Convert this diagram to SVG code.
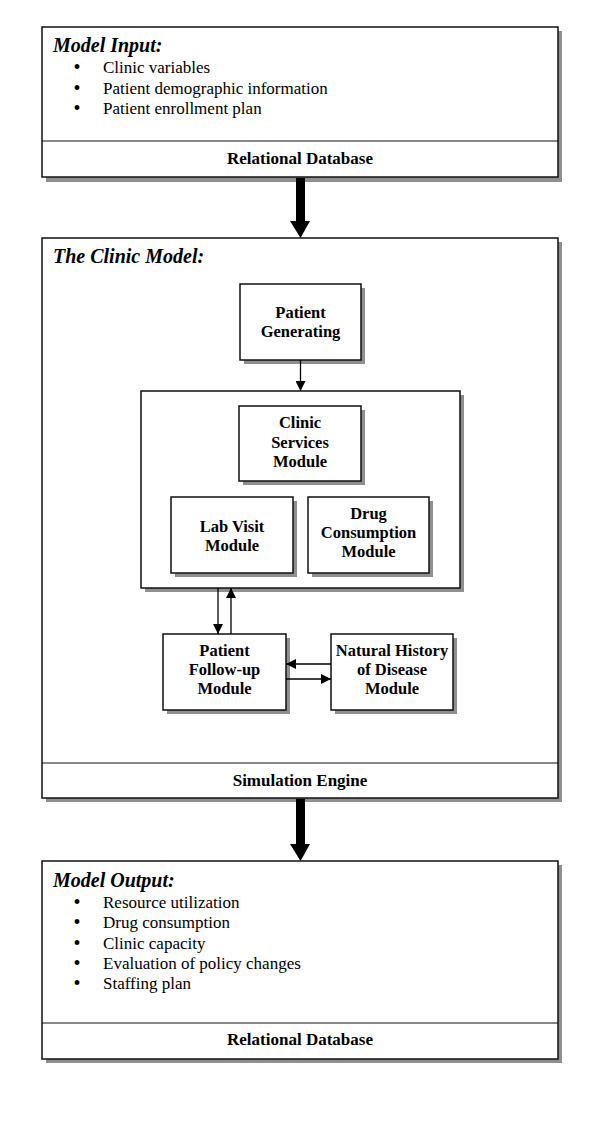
<svg xmlns="http://www.w3.org/2000/svg" width="600" height="1128" viewBox="0 0 600 1128">
<defs>
<style>
.shadow{fill:#8f8f8f;}
.box{fill:#fff;stroke:#111;stroke-width:1.5;}
.div{stroke:#111;stroke-width:1.2;fill:none;}
.title{font-family:"Liberation Serif","Times New Roman",serif;font-size:20px;font-weight:bold;font-style:italic;fill:#000;}
.item{font-family:"Liberation Serif","Times New Roman",serif;font-size:17px;fill:#000;}
.bul{font-family:"Liberation Serif","Times New Roman",serif;font-size:20px;fill:#000;text-anchor:middle;}
.label{font-family:"Liberation Serif","Times New Roman",serif;font-size:16.5px;font-weight:bold;fill:#000;text-anchor:middle;}
.band{font-family:"Liberation Serif","Times New Roman",serif;font-size:17px;font-weight:bold;fill:#000;text-anchor:middle;}
.conn{stroke:#000;stroke-width:1.3;fill:none;marker-end:url(#ah);}
</style>
<marker id="ah" viewBox="0 0 10 10" refX="10" refY="5" markerWidth="10" markerHeight="10" markerUnits="userSpaceOnUse" orient="auto">
<path d="M0,0 L10,5 L0,10 Z" fill="#000"/>
</marker>
</defs>
<rect width="600" height="1128" fill="#fff"/>

<g id="model-input">
<rect class="shadow" x="46" y="31" width="516" height="151"/>
<rect class="box" x="42" y="27" width="516" height="150"/>
<line class="div" x1="42" y1="141" x2="558" y2="141"/>
<text class="title" x="53" y="52">Model Input:</text>
<text class="bul" x="77" y="74">•</text><text class="item" x="103" y="73">Clinic variables</text>
<text class="bul" x="77" y="95">•</text><text class="item" x="103" y="94">Patient demographic information</text>
<text class="bul" x="77" y="115">•</text><text class="item" x="103" y="114">Patient enrollment plan</text>
<text class="band" x="300" y="164">Relational Database</text>
</g>

<g id="clinic-model">
<rect class="shadow" x="46" y="242" width="516" height="560"/>
<rect class="box" x="42" y="238" width="516" height="560"/>
<line class="div" x1="42" y1="763" x2="558" y2="763"/>
<text class="title" x="53" y="263">The Clinic Model:</text>
<text class="band" x="300" y="786">Simulation Engine</text>
</g>

<g id="patient-generating">
<rect class="shadow" x="244" y="288" width="121" height="76"/>
<rect class="box" x="240" y="284" width="121" height="76"/>
<text class="label" x="300.5" y="318">Patient</text>
<text class="label" x="300.5" y="337">Generating</text>
</g>

<g id="modules-container">
<rect class="shadow" x="145" y="395" width="319" height="197"/>
<rect class="box" x="141" y="391" width="319" height="197"/>
</g>

<g id="clinic-services">
<rect class="shadow" x="243" y="410" width="122" height="75"/>
<rect class="box" x="239" y="406" width="122" height="75"/>
<text class="label" x="300" y="428">Clinic</text>
<text class="label" x="300" y="448">Services</text>
<text class="label" x="300" y="467">Module</text>
</g>

<g id="lab-visit">
<rect class="shadow" x="175" y="501" width="122" height="76"/>
<rect class="box" x="171" y="497" width="122" height="76"/>
<text class="label" x="232" y="532">Lab Visit</text>
<text class="label" x="232" y="551">Module</text>
</g>

<g id="drug-consumption">
<rect class="shadow" x="312" y="501" width="121" height="76"/>
<rect class="box" x="308" y="497" width="121" height="76"/>
<text class="label" x="368.5" y="519">Drug</text>
<text class="label" x="368.5" y="538">Consumption</text>
<text class="label" x="368.5" y="557">Module</text>
</g>

<g id="patient-follow-up">
<rect class="shadow" x="167" y="638" width="123" height="76"/>
<rect class="box" x="163" y="634" width="123" height="76"/>
<text class="label" x="224.5" y="656">Patient</text>
<text class="label" x="224.5" y="675">Follow-up</text>
<text class="label" x="224.5" y="694">Module</text>
</g>

<g id="natural-history">
<rect class="shadow" x="335" y="638" width="122" height="76"/>
<rect class="box" x="331" y="634" width="122" height="76"/>
<text class="label" x="392" y="656">Natural History</text>
<text class="label" x="392" y="675">of Disease</text>
<text class="label" x="392" y="694">Module</text>
</g>

<g id="model-output">
<rect class="shadow" x="46" y="865" width="516" height="198"/>
<rect class="box" x="42" y="861" width="516" height="198"/>
<line class="div" x1="42" y1="1023" x2="558" y2="1023"/>
<text class="title" x="53" y="887">Model Output:</text>
<text class="bul" x="77" y="909">•</text><text class="item" x="103" y="908">Resource utilization</text>
<text class="bul" x="77" y="929">•</text><text class="item" x="103" y="928">Drug consumption</text>
<text class="bul" x="77" y="950">•</text><text class="item" x="103" y="949">Clinic capacity</text>
<text class="bul" x="77" y="970">•</text><text class="item" x="103" y="969">Evaluation of policy changes</text>
<text class="bul" x="77" y="990">•</text><text class="item" x="103" y="989">Staffing plan</text>
<text class="band" x="300" y="1045">Relational Database</text>
</g>

<g id="connectors">
<rect x="296" y="178" width="9" height="44" fill="#000"/>
<polygon points="290,221 310,221 300.5,238" fill="#000"/>
<rect x="296" y="799" width="9" height="46" fill="#000"/>
<polygon points="290,844 310,844 300.5,861" fill="#000"/>
<line class="conn" x1="300.5" y1="360" x2="300.5" y2="391"/>
<line class="conn" x1="218" y1="588" x2="218" y2="634"/>
<line class="conn" x1="231" y1="634" x2="231" y2="588"/>
<line class="conn" x1="331" y1="664" x2="286" y2="664"/>
<line class="conn" x1="286" y1="679" x2="331" y2="679"/>
</g>
</svg>
